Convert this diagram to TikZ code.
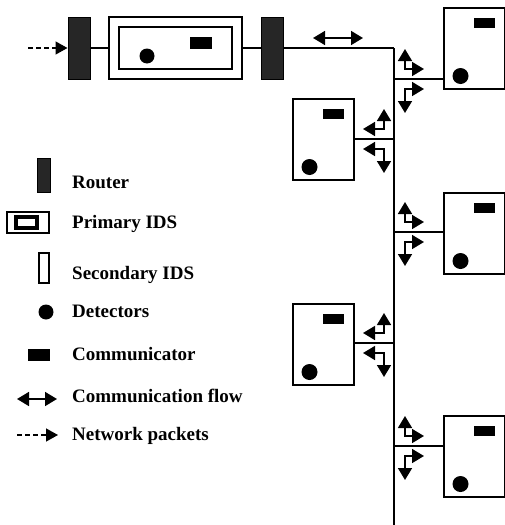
\documentclass[tikz,border=0pt]{standalone}
\usepackage{fontspec}
\setmainfont{Liberation Serif}
\usetikzlibrary{arrows.meta,calc}
\begin{document}
\begin{tikzpicture}[x=1pt,y=-1pt,
  router/.style={draw=black,fill=black!85,line width=1pt,minimum width=22pt,minimum height=62pt,inner sep=0pt},
  ecbox/.style={draw=black,line width=1.5pt,fill=white,minimum width=61pt,minimum height=81pt,inner sep=0pt,anchor=north west},
  comm/.style={fill=black,minimum width=21pt,minimum height=10pt,inner sep=0pt,anchor=north west},
  detector/.style={circle,fill=black,minimum size=16pt,inner sep=0pt},
  wire/.style={line width=1.4pt},
  bus/.style={line width=1.8pt},
  flow/.style={line width=1.6pt,{Triangle[width=14pt,length=12pt]}-{Triangle[width=14pt,length=12pt]}},
  packets/.style={line width=1.4pt,dash pattern=on 5pt off 3pt,-{Triangle[width=13pt,length=12pt]}},
  legtext/.style={anchor=base west,inner sep=0pt,font=\fontsize{19}{22}\selectfont\bfseries}
]
\useasboundingbox (0,0) rectangle (505,525);

% ---- top chain ----
\coordinate (src) at (28,48);
\node[router] (rt1) at (79,48) {};
\node[draw=black,line width=1.3pt,minimum width=133pt,minimum height=62pt,inner sep=0pt] (pids) at (175.5,48) {};
\node[draw=black,line width=2.6pt,minimum width=113pt,minimum height=42pt,inner sep=0pt] (pidsin) at (175.5,48) {};
\node[detector,minimum size=15pt] (pdet) at (147,56) {};
\node[fill=black,minimum width=22pt,minimum height=12pt,inner sep=0pt] (pcomm) at (201,43) {};
\node[router] (rt2) at (272,48) {};
\coordinate (bustop) at (394,48);
\coordinate (busend) at (394,525);

\draw[packets] (src) -- (rt1.west);
\draw[wire] (rt1.east) -- (pids.west);
\draw[wire] (pids.east) -- (rt2.west);
\draw[wire] (rt2.east) -- (bustop);
\draw[bus] (bustop) -- (busend);
\draw[flow] (313,38) -- (363,38);

% ---- EC boxes ----
\node[ecbox] (R1) at (443,7) {};
\node[ecbox] (L1) at (292,98) {};
\node[ecbox] (R2) at (443,192) {};
\node[ecbox] (L2) at (292,303) {};
\node[ecbox] (R3) at (443,415) {};
\foreach \b in {R1,L1,R2,L2,R3}{
  \node[comm] (\b c) at ($(\b.north west)+(31,11)$) {};
  \node[detector] (\b d) at ($(\b.north west)+(17.5,69)$) {};
}

% connections to bus
\coordinate (j1) at (394,79);
\coordinate (j2) at (394,139);
\coordinate (j3) at (394,232);
\coordinate (j4) at (394,343);
\coordinate (j5) at (394,446);
\draw[wire] (j1) -- (R1.west |- j1);
\draw[wire] (j2) -- (L1.east |- j2);
\draw[wire] (j3) -- (R2.west |- j3);
\draw[wire] (j4) -- (L2.east |- j4);
\draw[wire] (j5) -- (R3.west |- j5);

% flow arrows, right side
\foreach \c in {79,232,446}{
  \draw[flow] (405,\c-30) -- (405,\c-10) -- (424,\c-10);
  \draw[flow] (424,\c+10) -- (405,\c+10) -- (405,\c+34);
}
% flow arrows, left side
\foreach \c in {139,343}{
  \draw[flow] (384,\c-30) -- (384,\c-10) -- (363,\c-10);
  \draw[flow] (363,\c+10) -- (384,\c+10) -- (384,\c+34);
}

% ---- legend ----
\node[router,minimum width=13pt,minimum height=34pt] (lrt) at (43.5,175) {};
\node[legtext] (tRouter) at (72,188) {Router};
\node[draw=black,line width=1.2pt,minimum width=42pt,minimum height=21pt,inner sep=0pt] (lp) at (28,222.5) {};
\node[draw=black,line width=3.4pt,minimum width=21pt,minimum height=11pt,inner sep=0pt] (lpi) at (26.5,222.5) {};
\node[legtext] (tPrim) at (72,228) {Primary IDS};
\node[draw=black,line width=1.2pt,minimum width=10pt,minimum height=30pt,inner sep=0pt] (lsec) at (44,268) {};
\node[legtext] (tSec) at (72,279) {Secondary IDS};
\node[detector,minimum size=15pt] (ldet) at (46,312) {};
\node[legtext] (tDet) at (72,317) {Detectors};
\node[fill=black,minimum width=22pt,minimum height=12pt,inner sep=0pt] (lcomm) at (39,355) {};
\node[legtext] (tComm) at (72,360) {Communicator};
\coordinate (lf1) at (17,399);
\coordinate (lf2) at (57,399);
\draw[flow] (lf1) -- (lf2);
\node[legtext] (tFlow) at (72,402) {Communication flow};
\coordinate (ln1) at (17,435);
\coordinate (ln2) at (58,435);
\draw[packets] (ln1) -- (ln2);
\node[legtext] (tNet) at (72,440) {Network packets};
\end{tikzpicture}
\end{document}
